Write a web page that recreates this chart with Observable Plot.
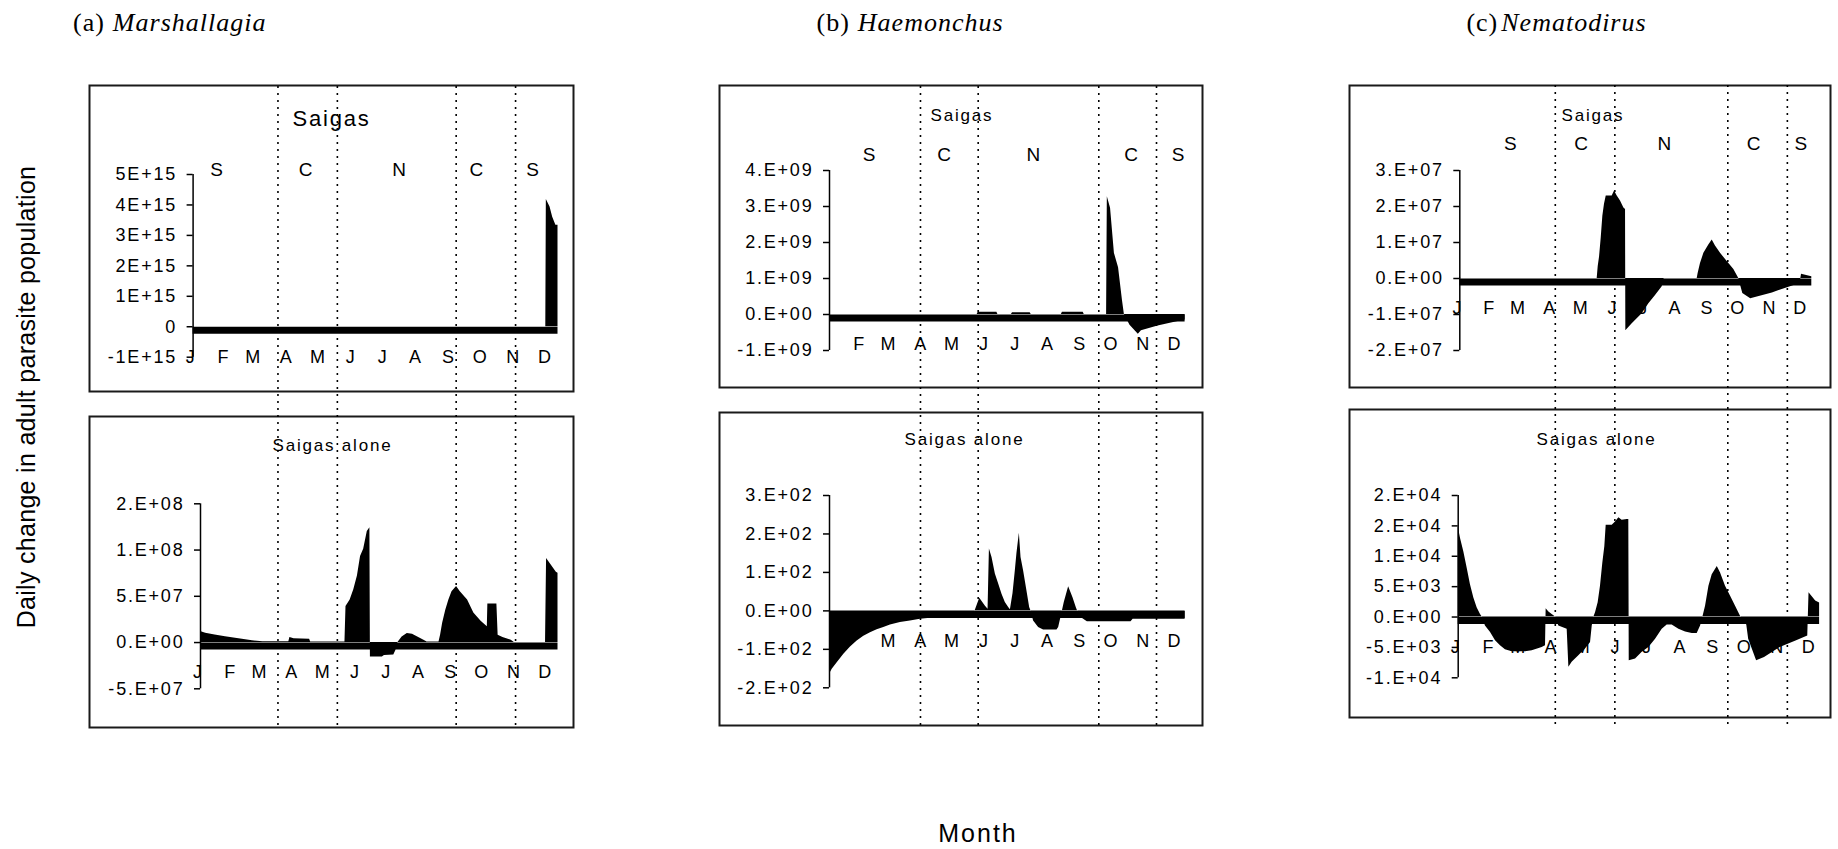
<!DOCTYPE html>
<html>
<head>
<meta charset="utf-8">
<script src="https://cdn.jsdelivr.net/npm/d3@7"></script>
<script src="https://cdn.jsdelivr.net/npm/@observablehq/plot@0.6"></script>
<style>
  html, body { margin: 0; padding: 0; background: #fff; }
  #fig { position: relative; width: 1838px; height: 849px; overflow: hidden; background: #fff;
         font-family: "Liberation Sans", Arial, sans-serif; color: #000; }
  .abs { position: absolute; white-space: nowrap; line-height: 1; }
  .title { font-family: "Liberation Serif", "Times New Roman", serif; font-size: 26px; letter-spacing: 1px; }
  .title i { font-style: italic; }
  .axis-title { font-size: 25px; letter-spacing: 0.3px; }
</style>
</head>
<body>
<div id="fig"></div>
<script>
// ---- calendar ----
const monthLetters = ["J", "F", "M", "A", "M", "J", "J", "A", "S", "O", "N", "D"];
const monthStartDays = [0, 31, 59, 90, 120, 151, 181, 212, 243, 273, 304, 334];

// ---- seasons ----
const seasonLetters = ["S", "C", "N", "C", "S"];
const seasonLabelDaysA = [23, 107, 195, 268, 321];
const seasonLabelDaysB = [39, 111, 197, 291, 336];
const seasonLabelDaysC = [50, 119, 200, 287, 333];
const seasonBoundsA = [80, 136, 248, 304];
const seasonBoundsB = [87.5, 143, 259, 314.5];
const seasonBoundsC = [93, 151, 261, 319];

// ---- y ticks and their printed labels ----
const ticksMarshallagiaSaigas = [5e15, 4e15, 3e15, 2e15, 1e15, 0, -1e15];
const labelsMarshallagiaSaigas = ["5E+15", "4E+15", "3E+15", "2E+15", "1E+15", "0", "-1E+15"];
const ticksMarshallagiaAlone = [1.5e8, 1e8, 5e7, 0, -5e7];
const labelsMarshallagiaAlone = ["2.E+08", "1.E+08", "5.E+07", "0.E+00", "-5.E+07"];
const ticksHaemonchusSaigas = [4e9, 3e9, 2e9, 1e9, 0, -1e9];
const labelsHaemonchusSaigas = ["4.E+09", "3.E+09", "2.E+09", "1.E+09", "0.E+00", "-1.E+09"];
const ticksHaemonchusAlone = [300, 200, 100, 0, -100, -200];
const labelsHaemonchusAlone = ["3.E+02", "2.E+02", "1.E+02", "0.E+00", "-1.E+02", "-2.E+02"];
const ticksNematodirusSaigas = [3e7, 2e7, 1e7, 0, -1e7, -2e7];
const labelsNematodirusSaigas = ["3.E+07", "2.E+07", "1.E+07", "0.E+00", "-1.E+07", "-2.E+07"];
const ticksNematodirusAlone = [20000, 15000, 10000, 5000, 0, -5000, -10000];
const labelsNematodirusAlone = ["2.E+04", "2.E+04", "1.E+04", "5.E+03", "0.E+00", "-5.E+03", "-1.E+04"];

// ---- daily change in adult parasite population: [day of year, change] ----
const marshallagiaSaigas = [
  [0, 0], [332.5, 0], [333, 4.18e15], [336.5, 3.93e15], [339, 3.6e15], [342, 3.33e15], [344, 3.33e15]
];
const marshallagiaAlone = [
  [0, 1.2e7], [5, 1.0e7], [14, 0.82e7], [24, 0.62e7], [37, 0.42e7], [50, 0.2e7], [60, 0.08e7],
  [85, 0.08e7], [86, 0.55e7], [90, 0.4e7], [105, 0.35e7], [106, 0.05e7], [139, 0.05e7],
  [140, 3.9e7], [144, 4.6e7], [147.5, 5.7e7], [151, 7.2e7], [154, 9.3e7], [157, 10.1e7],
  [160.5, 12.0e7], [163, 12.4e7], [163.5, -1.56e7], [175, -1.56e7], [177, -1.4e7], [186, -1.35e7],
  [188, -0.85e7], [190, 0], [194, 0.6e7], [199, 0.98e7], [204, 0.9e7], [209, 0.6e7], [215, 0.25e7],
  [218, 0.07e7], [229.5, 0.05e7], [231, 0.8e7], [233, 2.1e7], [236, 3.5e7], [239, 4.6e7],
  [242, 5.5e7], [246.4, 6.05e7], [250, 5.5e7], [257, 4.6e7], [263, 3.2e7], [270, 2.3e7],
  [276, 1.7e7], [276.5, 4.16e7], [285.2, 4.16e7], [286.4, 0.79e7], [291, 0.54e7], [299, 0.25e7],
  [302, 0], [332, 0], [333, 9.1e7], [342.4, 7.6e7], [344, 7.5e7]
];
const haemonchusSaigas = [
  [0, 0], [142, 0], [143, 0.06e9], [161, 0.06e9], [162, 0], [175, 0], [176, 0.05e9], [193, 0.05e9],
  [194, 0], [223, 0], [224, 0.06e9], [244, 0.06e9], [245, 0], [266.5, 0], [267.2, 3.27e9],
  [270.3, 2.95e9], [274, 1.7e9], [278, 1.3e9], [281.7, 0.4e9], [283.6, 0], [289, -0.3e9],
  [297, -0.55e9], [300, -0.45e9], [316, -0.32e9], [331, -0.22e9], [342, -0.15e9]
];
const haemonchusAlone = [
  [0, -165], [2.6, -152], [7.4, -135], [13.8, -113], [20.2, -94], [26.6, -78], [33, -66],
  [39.4, -57], [45.8, -49], [52.2, -43], [58.6, -37], [68.2, -30], [77.8, -26], [87.4, -22],
  [97, -19], [139, -19], [140, 0], [144.5, 33], [150, 12], [152.5, 4], [153.8, 161], [156.3, 139],
  [159.5, 96], [162.7, 70], [165.9, 43], [169.1, 22], [172.3, 9], [174, 3], [176.5, 45],
  [178.7, 104], [180.3, 150], [182.6, 202], [184.2, 139], [186.7, 104], [189.9, 52], [192.5, 9],
  [193.8, 0], [196.3, -26], [201.1, -43], [205.9, -50], [218.8, -50], [220.4, -43], [222.6, -17],
  [225.8, 22], [230, 63], [234.1, 35], [237.3, 9], [238.6, 0], [243, -19], [248, -28], [290, -28],
  [292, -22], [342, -22]
];
const nematodirusSaigas = [
  [0, 0.08e7], [1, 0], [133.8, 0], [134.8, 0.33e7], [136.1, 0.6e7], [137.7, 1.12e7], [139.3, 1.73e7],
  [140.9, 2.06e7], [142.6, 2.29e7], [148.4, 2.29e7], [150.7, 2.43e7], [153.3, 2.29e7], [156.5, 2.15e7],
  [159.8, 1.96e7], [161.4, 1.92e7], [161.7, -1.45e7], [167.9, -1.26e7], [177.6, -0.98e7],
  [184.1, -0.7e7], [190.6, -0.47e7], [197.1, -0.23e7], [199, 0], [231.2, 0], [232.1, 0.14e7],
  [234.4, 0.42e7], [237.7, 0.7e7], [242.5, 0.93e7], [245.8, 1.07e7], [249, 0.9e7], [253.9, 0.7e7],
  [260.4, 0.47e7], [266.9, 0.25e7], [271.7, 0], [275.6, -0.42e7], [283.3, -0.56e7], [304.4, -0.4e7],
  [319.8, -0.25e7], [331.3, -0.14e7], [332.8, 0.12e7], [342.8, 0.05e7]
];
const nematodirusAlone = [
  [0, 14840], [2.2, 12935], [5.3, 10760], [8.5, 8040], [11.6, 5325], [14.8, 3150], [17.9, 1520],
  [21.1, 435], [22.7, 0], [25.8, -1467], [30.6, -2554], [35.3, -3913], [40, -4728], [44.7, -5380],
  [51, -5707], [63.7, -5707], [70, -5550], [79.4, -5000], [82.6, -4728], [83.2, 1359], [85.8, 815],
  [88.9, 435], [92.1, 0], [95.2, -1467], [103.1, -2011], [104.7, -8261], [107.8, -7446],
  [114.1, -6359], [120.4, -5272], [125.2, -4185], [126.8, -1467], [128.4, 0], [129.9, 707],
  [132.4, 2337], [134.6, 5054], [136.8, 8859], [138.7, 11577], [140, 15109], [145.7, 15109],
  [148.8, 15652], [152, 16359], [155.1, 15924], [159.9, 16033], [161.4, 16033], [161.8, -7174],
  [167.8, -6902], [174.1, -5815], [180.4, -5000], [186.7, -3641], [193, -2011], [197.7, -1304],
  [202.4, -1304], [208.8, -2011], [215.1, -2446], [221.4, -2717], [226.1, -2700], [229.3, -1467],
  [231.5, 0], [234, 1794], [237.2, 5054], [240.3, 6957], [245.1, 8315], [248.2, 7228], [252.9, 5054],
  [257.7, 3424], [262.4, 1794], [267.4, 0], [273, -1300], [274.8, -3656], [282.3, -7213],
  [289.8, -6656], [304.6, -5016], [319.6, -3934], [330.7, -3115], [331.9, 4000], [338.2, 2623],
  [341.9, 2300]
];

// ---- page layout (pixels) ----
const fig = document.getElementById("fig");
const FONT = '"Liberation Sans", Arial, sans-serif';

function place(el, left, top) {
  el.style.position = "absolute";
  el.style.left = left + "px";
  el.style.top = top + "px";
  fig.appendChild(el);
  return el;
}

// One boxed area chart: black fill between the series and zero, heavy zero band,
// left value axis and month initials hung below the zero line.
function drawPanel(p) {
  const data = p.series.map(([day, value]) => ({day, value}));
  const lastDay = data[data.length - 1].day;
  const W = p.box.right - p.box.left, H = p.box.bottom - p.box.top;
  const mL = p.axisX - p.box.left, mR = p.box.right - p.endX;
  const mT = p.yTopPx - p.box.top, mB = p.box.bottom - p.yBottomPx;
  const yMin = d3.min(p.ticks), yMax = d3.max(p.ticks);
  const tickText = new Map(p.ticks.map((t, i) => [t, p.tickLabels[i]]));
  const months = monthLetters
    .map((label, i) => ({label, day: monthStartDays[i]}))
    .filter((d, i) => i >= (p.firstMonth || 0));

  const marks = [
    Plot.frame({stroke: "#1a1a1a", strokeWidth: 2,
      insetLeft: 1 - mL, insetRight: 1 - mR, insetTop: 1 - mT, insetBottom: 1 - mB}),
    Plot.text(months, {x: "day", y: 0, text: "label", dy: 30, dx: -2, fontSize: 18}),
    Plot.areaY(data, {x: "day", y: "value", fill: "black", curve: "linear"}),
    Plot.ruleY([0], {x1: 0, x2: lastDay, stroke: "black", strokeWidth: 7, dy: 3.5}),
    Plot.ruleX([0], {y1: yMin, y2: yMax, stroke: "black", strokeWidth: 1.5}),
    Plot.axisY({ticks: p.ticks, tickFormat: d => tickText.get(d), tickSize: 6, tickPadding: 10,
      fontSize: 18, strokeWidth: 1.5, label: null}),
    Plot.text([p.heading], {text: d => d, frameAnchor: "top",
      dx: (mR - mL) / 2 + (p.headingDx || 0), dy: p.headingOffset - mT, fontSize: p.headingSize})
  ];
  if (p.seasonDays) {
    const seasons = seasonLetters.map((label, i) => ({label, day: p.seasonDays[i]}));
    marks.push(Plot.text(seasons, {x: "day", text: "label", frameAnchor: "top",
      dy: p.seasonOffset - mT, fontSize: 19}));
  }

  const svg = Plot.plot({
    width: W, height: H,
    marginLeft: mL, marginRight: mR, marginTop: mT, marginBottom: mB,
    x: {domain: [0, lastDay], axis: null},
    y: {domain: [yMin, yMax], label: null},
    style: {fontFamily: FONT, fontSize: "18px", letterSpacing: "1.8px", color: "black",
            background: "white", overflow: "visible"},
    marks
  });
  place(svg, p.box.left, p.box.top);
  return {mL, mR, lastDay, W};
}

// Dotted season boundaries running through both panels of a column.
function drawGuides(topPanel, geom, bounds, y0, y1) {
  const svg = Plot.plot({
    width: geom.W, height: y1 - y0,
    marginLeft: geom.mL, marginRight: geom.mR, marginTop: 0, marginBottom: 0,
    x: {domain: [0, geom.lastDay], axis: null},
    style: {background: "transparent", overflow: "visible", pointerEvents: "none"},
    marks: [Plot.ruleX(bounds, {stroke: "black", strokeWidth: 1.6, strokeDasharray: "2,5"})]
  });
  place(svg, topPanel.box.left, y0);
}

const panels = {
  aTop: {series: marshallagiaSaigas, ticks: ticksMarshallagiaSaigas, tickLabels: labelsMarshallagiaSaigas,
    box: {left: 88, top: 84, right: 574, bottom: 392}, axisX: 192.6, endX: 557.5, yTopPx: 174, yBottomPx: 356.7,
    heading: "Saigas", headingOffset: 26, headingSize: 22, seasonDays: seasonLabelDaysA, seasonOffset: 77.7},
  aBot: {series: marshallagiaAlone, ticks: ticksMarshallagiaAlone, tickLabels: labelsMarshallagiaAlone,
    box: {left: 88, top: 415, right: 574, bottom: 728}, axisX: 200, endX: 557.5, yTopPx: 503.3, yBottomPx: 688.3,
    heading: "Saigas alone", headingOffset: 23.3, headingSize: 17, headingDx: 1},
  bTop: {series: haemonchusSaigas, ticks: ticksHaemonchusSaigas, tickLabels: labelsHaemonchusSaigas,
    box: {left: 718, top: 84, right: 1203, bottom: 388}, axisX: 829, endX: 1184.6, yTopPx: 170, yBottomPx: 350,
    heading: "Saigas", headingOffset: 24.3, headingSize: 17, headingDx: 1, firstMonth: 1,
    seasonDays: seasonLabelDaysB, seasonOffset: 62.7},
  bBot: {series: haemonchusAlone, ticks: ticksHaemonchusAlone, tickLabels: labelsHaemonchusAlone,
    box: {left: 718, top: 411, right: 1203, bottom: 726}, axisX: 829, endX: 1184.6, yTopPx: 495, yBottomPx: 687.3,
    heading: "Saigas alone", headingOffset: 21.7, headingSize: 17, headingDx: 3.5, firstMonth: 2},
  cTop: {series: nematodirusSaigas, ticks: ticksNematodirusSaigas, tickLabels: labelsNematodirusSaigas,
    box: {left: 1348, top: 84, right: 1831, bottom: 388}, axisX: 1459.3, endX: 1811.3, yTopPx: 170, yBottomPx: 350,
    heading: "Saigas", headingOffset: 24.3, headingSize: 17, headingDx: 3,
    seasonDays: seasonLabelDaysC, seasonOffset: 52},
  cBot: {series: nematodirusAlone, ticks: ticksNematodirusAlone, tickLabels: labelsNematodirusAlone,
    box: {left: 1348, top: 408, right: 1831, bottom: 718}, axisX: 1457.7, endX: 1819.1, yTopPx: 495, yBottomPx: 677.3,
    heading: "Saigas alone", headingOffset: 24.4, headingSize: 17, headingDx: 6.5}
};

const gA = drawPanel(panels.aTop); drawPanel(panels.aBot);
const gB = drawPanel(panels.bTop); drawPanel(panels.bBot);
const gC = drawPanel(panels.cTop); drawPanel(panels.cBot);
drawGuides(panels.aTop, gA, seasonBoundsA, 86, 728);
drawGuides(panels.bTop, gB, seasonBoundsB, 86, 727);
drawGuides(panels.cTop, gC, seasonBoundsC, 85, 725);

// ---- column titles and shared axis titles ----
function titleEl(letter, genus, left) {
  const el = document.createElement("div");
  el.className = "abs title";
  el.innerHTML = `(${letter})<span style="margin-left:${letter === "c" ? 3 : 8}px"><i>${genus}</i></span>`;
  return place(el, left, 10);
}
titleEl("a", "Marshallagia", 73);
titleEl("b", "Haemonchus", 816.5);
titleEl("c", "Nematodirus", 1466.4);

const yTitle = document.createElement("div");
yTitle.className = "abs axis-title";
yTitle.textContent = "Daily change in adult parasite population";
yTitle.style.transform = "translate(-50%, -50%) rotate(-90deg)";
place(yTitle, 25.5, 397);

const xTitle = document.createElement("div");
xTitle.className = "abs axis-title";
xTitle.textContent = "Month";
xTitle.style.letterSpacing = "2px";
xTitle.style.transform = "translate(-50%, -50%)";
place(xTitle, 978, 833);
</script>
</body>
</html>
